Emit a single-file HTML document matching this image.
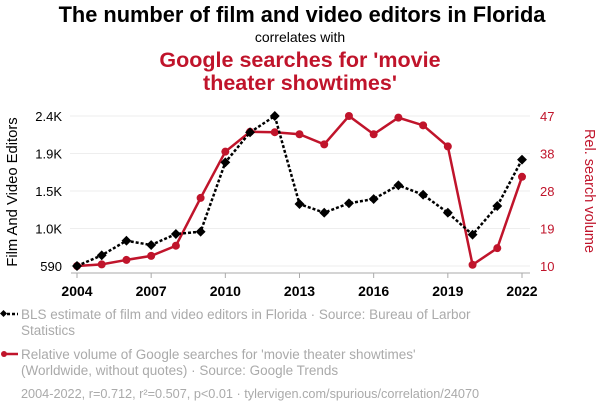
<!DOCTYPE html>
<html><head><meta charset="utf-8"><style>
body{margin:0;background:#fff;width:600px;height:414px;overflow:hidden;font-family:"Liberation Sans",Arial,sans-serif}
</style></head><body>
<svg id="chart" width="600" height="414" xmlns="http://www.w3.org/2000/svg" font-family="Liberation Sans, Arial, sans-serif">
<text x="302" y="22" text-anchor="middle" font-size="21.8" font-weight="bold" fill="#000">The number of film and video editors in Florida</text>
<text x="300" y="42" text-anchor="middle" font-size="14" fill="#000">correlates with</text>
<text x="300" y="67" text-anchor="middle" font-size="21.5" font-weight="bold" fill="#c0142b">Google searches for 'movie</text>
<text x="300" y="90" text-anchor="middle" font-size="21.5" font-weight="bold" fill="#c0142b">theater showtimes'</text>
<g id="grid"></g><g id="axes"></g><g id="series"></g>
<text transform="translate(17,192) rotate(-90)" text-anchor="middle" font-size="14.8" fill="#000">Film And Video Editors</text>
<text transform="translate(585,191) rotate(90)" text-anchor="middle" font-size="14.5" fill="#c0142b">Rel. search volume</text>
<g>
<line x1="2" y1="314" x2="18" y2="314" stroke="#000" stroke-width="2.5" stroke-dasharray="3,2"/>
<rect x="1" y="311" width="5" height="5" transform="rotate(45 3.5 313.5)" fill="#000"/>
<text x="21" y="319" font-size="13.5" fill="#aaa">BLS estimate of film and video editors in Florida · Source: Bureau of Larbor</text>
<text x="21" y="335" font-size="13.5" fill="#aaa">Statistics</text></g>
<g>
<line x1="3" y1="354" x2="18" y2="354" stroke="#c0142b" stroke-width="2.5"/>
<circle cx="4" cy="354" r="3" fill="#c0142b"/>
<text x="21" y="359" font-size="13.5" fill="#aaa">Relative volume of Google searches for 'movie theater showtimes'</text>
<text x="21" y="375" font-size="13.5" fill="#aaa">(Worldwide, without quotes) · Source: Google Trends</text></g>
<text x="21" y="398" font-size="12.7" fill="#aaa">2004-2022, r=0.712, r²=0.507, p&lt;0.01 · tylervigen.com/spurious/correlation/24070</text>
</svg>
<script>
const years=[2004,2005,2006,2007,2008,2009,2010,2011,2012,2013,2014,2015,2016,2017,2018,2019,2020,2021,2022];
const editors=[590,719,895,843,976,1004,1841,2203,2400,1338,1233,1347,1398,1564,1450,1233,968,1314,1873];
const searches=[10,10.4,11.5,12.5,15.0,26.8,38.2,43.1,43.0,42.5,40.0,47,42.5,46.6,44.7,39.5,10.3,14.4,32.0];
const leftTickLabels=["590","1.0K","1.5K","1.9K","2.4K"];
const rightTickLabels=["10","19","28","38","47"];
const xTickYears=[2004,2007,2010,2013,2016,2019,2022];
const NS="http://www.w3.org/2000/svg";
const x=v=>77+(v-2004)*(522-77)/18;
const yL=v=>266-(v-590)*150/(2400-590);
const yR=v=>266-(v-10)*150/37;
function mk(tag,attrs,parent){const e=document.createElementNS(NS,tag);for(const k in attrs)e.setAttribute(k,attrs[k]);parent.appendChild(e);return e;}
const grid=document.getElementById('grid'),axes=document.getElementById('axes'),ser=document.getElementById('series');
for(let i=0;i<5;i++){const yy=266-i*37.5;
 const g=mk('line',{x1:70,x2:530,y1:yy,y2:yy,stroke:'#eee','stroke-width':1},grid);
 
 
 const t=mk('text',{x:62,y:yy+5,'text-anchor':'end','font-size':13,fill:'#000'},axes);t.textContent=leftTickLabels[i];
 
 
 const r=mk('text',{x:540,y:yy+5,'font-size':13,fill:'#c0142b'},axes);r.textContent=rightTickLabels[i];
 
 }
const ax=mk('line',{x1:71,x2:530,y1:273,y2:273,stroke:'#aaa','stroke-width':1},axes);


xTickYears.forEach(v=>{mk('line',{x1:x(v),x2:x(v),y1:273,y2:278,stroke:'#aaa'},axes);
 const t=mk('text',{x:x(v),y:296,'text-anchor':'middle','font-size':14,'font-weight':'bold',fill:'#000'},axes);t.textContent=v;
 
 });
const rp=years.map((v,i)=>x(v)+','+yR(searches[i])).join(' ');
const rl=mk('polyline',{points:rp,fill:'none',stroke:'#c0142b','stroke-width':2.5},ser);


years.forEach((v,i)=>{const c=mk('circle',{cx:x(v),cy:yR(searches[i]),r:4,fill:'#c0142b'},ser);
 
 });
const bp=years.map((v,i)=>x(v)+','+yL(editors[i])).join(' ');
const bl=mk('polyline',{points:bp,fill:'none',stroke:'#000','stroke-width':2.5,'stroke-dasharray':'3,2'},ser);


years.forEach((v,i)=>{const cx=x(v),cy=yL(editors[i]);
 const d=mk('rect',{x:cx-3.5,y:cy-3.5,width:7,height:7,fill:'#000',transform:`rotate(45 ${cx} ${cy})`},ser);
 
 });
</script>
</body></html>
